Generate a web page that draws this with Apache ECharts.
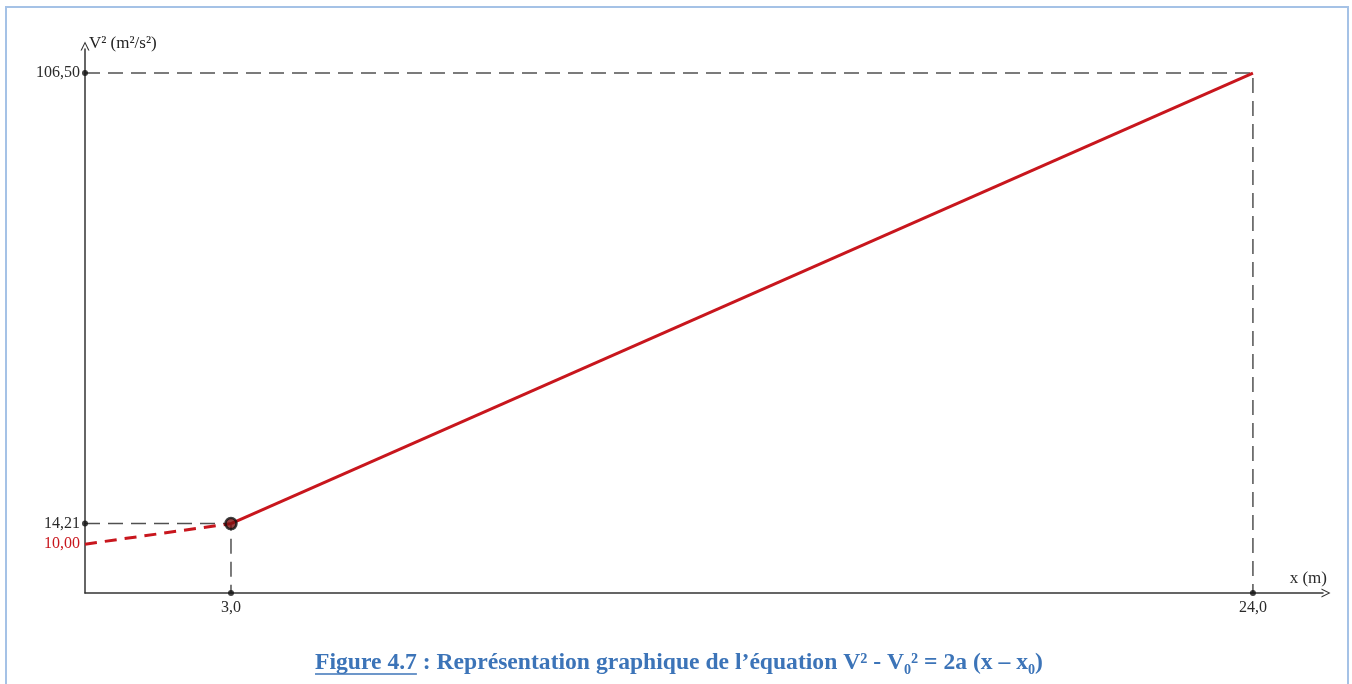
<!DOCTYPE html>
<html>
<head>
<meta charset="utf-8">
<script src="https://cdn.jsdelivr.net/npm/echarts@6/dist/echarts.min.js"></script>
<style>
html,body{margin:0;padding:0;background:#fff;}
#chart{width:1352px;height:684px;}
</style>
</head>
<body>
<div id="chart"></div>
<script>
// ---- data ----
const xValues = [0, 3, 24];                 // x (m)
const v2Values = [10.00, 14.21, 106.50];    // V² (m²/s²)
const xTicks = [3, 24];
const xTickLabels = ['3,0', '24,0'];
const yTicks = [10.00, 14.21, 106.50];
const yTickLabels = ['10,00', '14,21', '106,50'];
const yAxisName = 'V² (m²/s²)';
const xAxisName = 'x (m)';
const captionLink = 'Figure 4.7';
const captionRest = ' : Représentation graphique de l’équation V² - V₀² = 2a (x – x₀)';

// ---- derived series ----
const dashedPart = [[xValues[0], v2Values[0]], [xValues[1], v2Values[1]]];
const solidPart = [[xValues[1], v2Values[1]], [xValues[2], v2Values[2]]];
const guideTop = [[0, v2Values[2]], [xValues[2], v2Values[2]], [xValues[2], 0]];
const guideMid = [[0, v2Values[1]], [xValues[1], v2Values[1]], [xValues[1], 0]];
const tickDots = [[0, v2Values[1]], [0, v2Values[2]], [xTicks[0], 0], [xTicks[1], 0]];

const RED = '#C8161D';
const AX = '#333333';
const GUIDE = '#505050';
const SERIF = '"Liberation Serif", "DejaVu Serif", serif';
const CAPC = '#3C74B8';

const arrowPath = 'path://M5,0 L10,10 L8.6,10 L5,2.4 L1.4,10 L0,10 Z';

// caption measurement
const mc = document.createElement('canvas').getContext('2d');
let capSize = 22;
mc.font = 'bold ' + capSize + 'px ' + SERIF;
let wAll = mc.measureText(captionLink + captionRest).width;
capSize = Math.max(16, Math.min(26, capSize * 728 / wAll));
mc.font = 'bold ' + capSize + 'px ' + SERIF;
const w1 = mc.measureText(captionLink).width;
const wTot = mc.measureText(captionLink + captionRest).width;
const capX = 679 - wTot / 2;
const capY = 663;

const chart = echarts.init(document.getElementById('chart'), null, {renderer: 'canvas'});
const option = {
  animation: false,
  backgroundColor: '#ffffff',
  grid: {left: 85, right: 29, top: 49, bottom: 91, containLabel: false},
  xAxis: {
    type: 'value', min: 0, max: 25.44,
    axisLine: {show: true, onZero: false, lineStyle: {color: AX, width: 1.5},
      symbol: ['none', arrowPath], symbolSize: [11, 9], symbolOffset: [0, 3]},
    axisTick: {show: false},
    splitLine: {show: false},
    axisLabel: {
      customValues: xTicks,
      formatter: function (v) { const i = xTicks.indexOf(v); return i >= 0 ? xTickLabels[i] : ''; },
      color: '#2a2a2a', fontFamily: SERIF, fontSize: 16, margin: 7
    },
    name: xAxisName, nameLocation: 'end', nameGap: 0,
    nameTextStyle: {color: '#2a2a2a', fontFamily: SERIF, fontSize: 17, align: 'right', verticalAlign: 'bottom', padding: [0, -4, 6, 0]}
  },
  yAxis: {
    type: 'value', min: 0, max: 111.42,
    axisLine: {show: true, onZero: false, lineStyle: {color: AX, width: 1.5},
      symbol: ['none', arrowPath], symbolSize: [11, 9], symbolOffset: [0, 3]},
    axisTick: {show: false},
    splitLine: {show: false},
    axisLabel: {
      customValues: yTicks,
      formatter: function (v) {
        const i = yTicks.indexOf(v);
        if (i < 0) return '';
        return i === 0 ? '{r|' + yTickLabels[i] + '}' : yTickLabels[i];
      },
      color: '#2a2a2a', fontFamily: SERIF, fontSize: 16, margin: 5,
      rich: {r: {color: RED, fontFamily: SERIF, fontSize: 16}}
    },
    name: yAxisName, nameLocation: 'end', nameGap: 5,
    nameTextStyle: {color: '#222', fontFamily: SERIF, fontSize: 17, align: 'left', verticalAlign: 'middle', padding: [0, 0, 0, 4]}
  },
  series: [
    {type: 'line', data: guideTop, symbol: 'none', silent: true, z: 2,
      lineStyle: {color: GUIDE, width: 1.5, type: [15, 8]}},
    {type: 'line', data: guideMid, symbol: 'none', silent: true, z: 2,
      lineStyle: {color: GUIDE, width: 1.5, type: [15, 8]}},
    {type: 'line', data: dashedPart, symbol: 'none', z: 3,
      lineStyle: {color: RED, width: 3, type: [12, 8]}},
    {type: 'line', data: solidPart, symbol: 'none', z: 3,
      lineStyle: {color: RED, width: 3}},
    {type: 'scatter', data: tickDots, symbol: 'circle', symbolSize: 6, clip: false, z: 5,
      itemStyle: {color: '#111'}},
    {type: 'scatter', data: [[xValues[1], v2Values[1]]], symbol: 'circle', symbolSize: 11, clip: false, z: 6,
      itemStyle: {color: '#7a1010', borderColor: '#111', borderWidth: 2.5}}
  ],
  graphic: [
    {type: 'rect', silent: true, z: 100,
      shape: {x: 6, y: 7, width: 1342, height: 720},
      style: {fill: 'none', stroke: '#A5C2E6', lineWidth: 2}},
    {type: 'text', silent: true, z: 100, x: capX, y: capY,
      style: {text: captionLink, font: 'bold ' + capSize.toFixed(2) + 'px ' + SERIF, fill: CAPC, textAlign: 'left', textVerticalAlign: 'middle'}},
    {type: 'text', silent: true, z: 100, x: capX + w1, y: capY,
      style: {text: captionRest, font: 'bold ' + capSize.toFixed(2) + 'px ' + SERIF, fill: CAPC, textAlign: 'left', textVerticalAlign: 'middle'}},
    {type: 'line', silent: true, z: 100,
      shape: {x1: capX, y1: capY + 11, x2: capX + w1, y2: capY + 11},
      style: {stroke: CAPC, lineWidth: 1.5}}
  ]
};
chart.setOption(option);
</script>
</body>
</html>
